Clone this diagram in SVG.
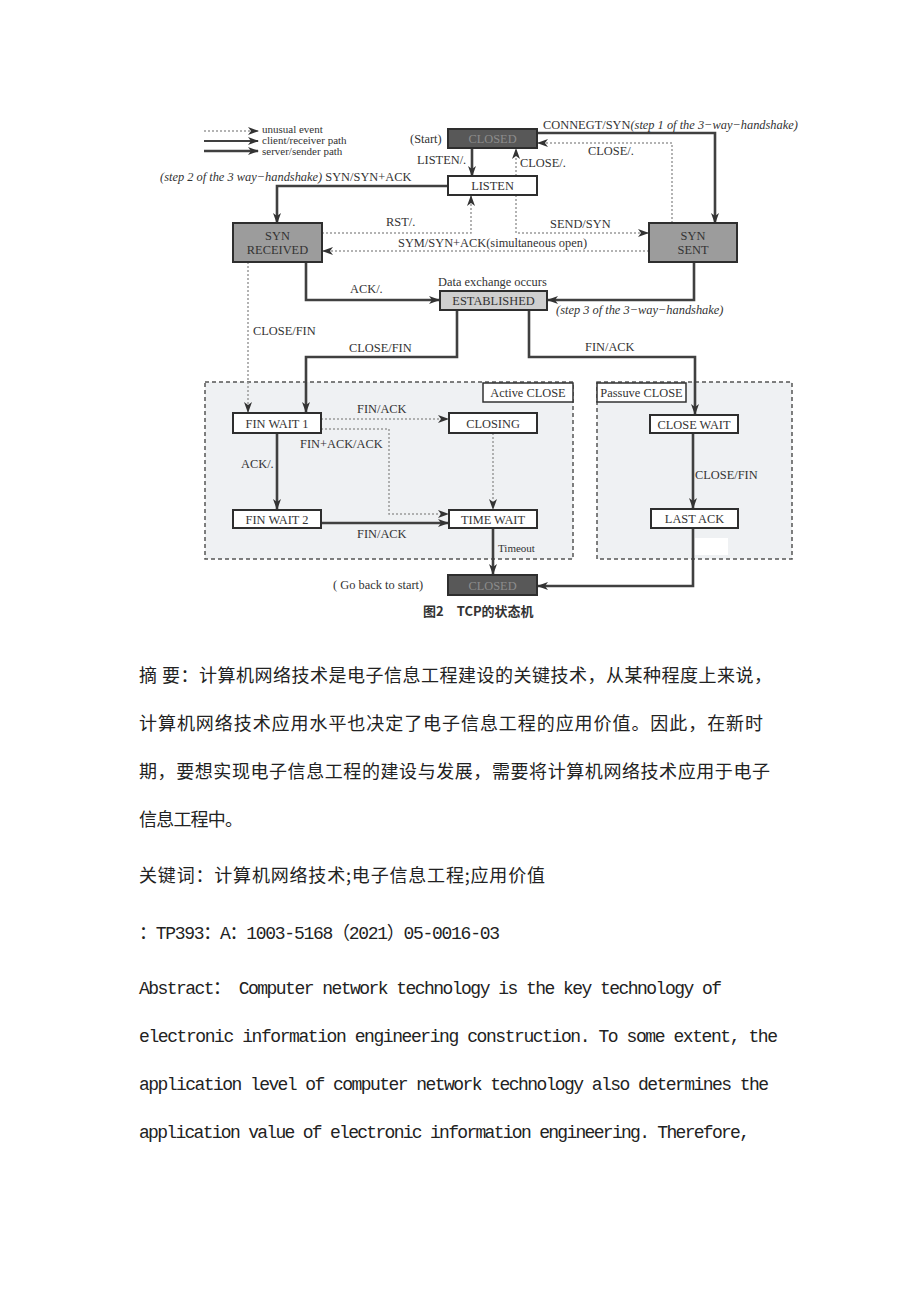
<svg xmlns="http://www.w3.org/2000/svg" width="920" height="1302" viewBox="0 0 920 1302">
<style>
.lbl{font-family:"Liberation Serif","Times New Roman",serif;font-size:12.4px;fill:#333}
.lg{font-family:"Liberation Serif","Times New Roman",serif;font-size:11px;fill:#333}
.it{font-style:italic}
.nt{font-family:"Liberation Serif","Times New Roman",serif;font-size:12.4px;fill:#333;text-anchor:middle}
.box{stroke:#2e2e2e;stroke-width:2}
.t{fill:none;stroke:#404040;stroke-width:2.6}
.m{fill:none;stroke:#404040;stroke-width:1.8}
.d{fill:none;stroke:#9a9a9a;stroke-width:1.5;stroke-dasharray:2,2}
.reg{fill:#eff1f3;stroke:#555;stroke-width:1.5;stroke-dasharray:4,3}
.cn{font-family:"Noto Sans CJK SC","Liberation Serif",sans-serif;font-size:18px;fill:#222}
.en{font-family:"Liberation Mono","Noto Sans CJK SC",monospace;font-size:18px;fill:#222}
</style>
<defs>
<marker id="ah" markerUnits="userSpaceOnUse" markerWidth="11" markerHeight="8" refX="10" refY="4" orient="auto"><path d="M0,0 L11,4 L0,8 L3,4 z" fill="#333"/></marker>
</defs>
<rect width="920" height="1302" fill="#fff"/>

<g id="regions">
<rect class="reg" x="205" y="382" width="368" height="177"/>
<rect class="reg" x="597" y="382" width="195" height="177"/>
<rect x="695" y="538" width="33" height="17" fill="#fff"/>
</g>

<g id="legend">
<path class="d" d="M204,131 L258,131" marker-end="url(#ah)"/>
<path class="m" d="M204,141 L258,141" marker-end="url(#ah)"/>
<path class="t" d="M204,151 L258,151" marker-end="url(#ah)"/>
<text class="lg" x="262" y="133">unusual event</text>
<text class="lg" x="262" y="144">client/receiver path</text>
<text class="lg" x="262" y="155">server/sender path</text>
</g>

<g id="connectors">
<path class="t" d="M472,148 L472,176" marker-end="url(#ah)"/>
<path class="d" d="M516,176 L516,149" marker-end="url(#ah)"/>
<path class="t" d="M537,133 L715,133 L715,223" marker-end="url(#ah)"/>
<path class="d" d="M672,223 L672,143 L538,143" marker-end="url(#ah)"/>
<path class="t" d="M448,186 L277,186 L277,223" marker-end="url(#ah)"/>
<path class="d" d="M322,233 L471,233 L471,196" marker-end="url(#ah)"/>
<path class="d" d="M649,251 L323,251" marker-end="url(#ah)"/>
<path class="d" d="M516,195 L516,233 L648,233" marker-end="url(#ah)"/>
<path class="t" d="M306,262 L306,300 L439,300" marker-end="url(#ah)"/>
<path class="t" d="M694,262 L694,300 L548,300" marker-end="url(#ah)"/>
<path class="d" d="M248,262 L248,412" marker-end="url(#ah)"/>
<path class="t" d="M457,310 L457,357 L306,357 L306,412" marker-end="url(#ah)"/>
<path class="t" d="M529,310 L529,357 L695,357 L695,414" marker-end="url(#ah)"/>
<path class="d" d="M321,419 L448,419" marker-end="url(#ah)"/>
<path class="d" d="M321,429 L389,429 L389,514 L448,514" marker-end="url(#ah)"/>
<path class="t" d="M277,433 L277,509" marker-end="url(#ah)"/>
<path class="d" d="M493,433 L493,509" marker-end="url(#ah)"/>
<path class="t" d="M321,523 L448,523" marker-end="url(#ah)"/>
<path class="t" d="M493,528 L493,574" marker-end="url(#ah)"/>
<path class="t" d="M693,433 L693,508" marker-end="url(#ah)"/>
<path class="t" d="M693,528 L693,586 L538,586" marker-end="url(#ah)"/>
</g>

<g id="edge-labels">
<text class="lbl" x="410" y="143">(Start)</text>
<text class="lbl" x="417" y="164">LISTEN/.</text>
<text class="lbl" x="520" y="167">CLOSE/.</text>
<text class="lbl" x="543" y="129">CONNEGT/SYN<tspan class="it">(step 1 of the 3−way−handshake)</tspan></text>
<text class="lbl" x="588" y="155">CLOSE/.</text>
<text class="lbl" x="160" y="181"><tspan class="it">(step 2 of the 3 way−handshake)</tspan> SYN/SYN+ACK</text>
<text class="lbl" x="386" y="226">RST/.</text>
<text class="lbl" x="550" y="228">SEND/SYN</text>
<text class="lbl" x="398" y="247">SYM/SYN+ACK(simultaneous open)</text>
<text class="lbl" x="350" y="293">ACK/.</text>
<text class="lbl" x="438" y="286">Data exchange occurs</text>
<text class="lbl it" x="556" y="314">(step 3 of the 3−way−handshake)</text>
<text class="lbl" x="253" y="335">CLOSE/FIN</text>
<text class="lbl" x="349" y="352">CLOSE/FIN</text>
<text class="lbl" x="585" y="351">FIN/ACK</text>
<text class="lbl" x="357" y="413">FIN/ACK</text>
<text class="lbl" x="300" y="448">FIN+ACK/ACK</text>
<text class="lbl" x="241" y="468">ACK/.</text>
<text class="lbl" x="357" y="538">FIN/ACK</text>
<text class="lbl" x="498" y="552" style="font-size:11px">Timeout</text>
<text class="lbl" x="695" y="479">CLOSE/FIN</text>
<text class="lbl" x="333" y="589">( Go back to start)</text>
</g>

<g id="label-active"><rect x="483" y="383" width="90" height="19" fill="#fff" stroke="#333" stroke-width="1.5"/><text class="nt" x="528" y="397">Active CLOSE</text></g>
<g id="label-passive"><rect x="597" y="383" width="89" height="19" fill="#fff" stroke="#333" stroke-width="1.5"/><text class="nt" x="641.5" y="397">Passuve CLOSE</text></g>

<g id="closed-top"><rect class="box" x="448" y="129" width="89" height="19" fill="#585858"/><text class="nt" x="492.5" y="143" style="fill:#8c8c8c">CLOSED</text></g>
<g id="listen"><rect class="box" x="448" y="176" width="89" height="19" fill="#fff"/><text class="nt" x="492.5" y="190">LISTEN</text></g>
<g id="syn-received"><rect class="box" x="233" y="223" width="89" height="39" fill="#9c9c9c"/><text class="nt" x="277.5" y="240">SYN</text><text class="nt" x="277.5" y="254">RECEIVED</text></g>
<g id="syn-sent"><rect class="box" x="649" y="223" width="88" height="39" fill="#9c9c9c"/><text class="nt" x="693" y="240">SYN</text><text class="nt" x="693" y="254">SENT</text></g>
<g id="established"><rect class="box" x="440" y="291" width="107" height="19" fill="#cfcfcf"/><text class="nt" x="493.5" y="305">ESTABLISHED</text></g>
<g id="fin-wait-1"><rect class="box" x="233" y="413" width="88" height="20" fill="#fff"/><text class="nt" x="277" y="428">FIN WAIT 1</text></g>
<g id="closing"><rect class="box" x="449" y="413" width="88" height="20" fill="#fff"/><text class="nt" x="493" y="428">CLOSING</text></g>
<g id="fin-wait-2"><rect class="box" x="233" y="510" width="88" height="18" fill="#fff"/><text class="nt" x="277" y="524">FIN WAIT 2</text></g>
<g id="time-wait"><rect class="box" x="449" y="510" width="88" height="18" fill="#fff"/><text class="nt" x="493" y="524">TIME WAIT</text></g>
<g id="close-wait"><rect class="box" x="650" y="415" width="88" height="18" fill="#fff"/><text class="nt" x="694" y="429">CLOSE WAIT</text></g>
<g id="last-ack"><rect class="box" x="651" y="509" width="87" height="19" fill="#fff"/><text class="nt" x="694.5" y="523">LAST ACK</text></g>
<g id="closed-bottom"><rect class="box" x="448" y="575" width="89" height="20" fill="#585858"/><text class="nt" x="492.5" y="590" style="fill:#8c8c8c">CLOSED</text></g>

<text x="423" y="616" style="font-family:'Noto Sans CJK SC',sans-serif;font-size:13px;font-weight:bold;fill:#333">图2　TCP的状态机</text>

<g id="body">
<text class="cn" x="139" y="682" textLength="633" lengthAdjust="spacing">摘 要：计算机网络技术是电子信息工程建设的关键技术，从某种程度上来说，</text>
<text class="cn" x="139" y="730" textLength="624" lengthAdjust="spacing">计算机网络技术应用水平也决定了电子信息工程的应用价值。因此，在新时</text>
<text class="cn" x="139" y="778" textLength="631" lengthAdjust="spacing">期，要想实现电子信息工程的建设与发展，需要将计算机网络技术应用于电子</text>
<text class="cn" x="139" y="826" textLength="104" lengthAdjust="spacing">信息工程中。</text>
<text class="cn" x="139" y="882" textLength="406" lengthAdjust="spacing">关键词：计算机网络技术;电子信息工程;应用价值</text>
<text class="en" x="139" y="939" textLength="361" lengthAdjust="spacing">：TP393：A：1003-5168（2021）05-0016-03</text>
<text class="en" x="139" y="994" textLength="583" lengthAdjust="spacing">Abstract：  Computer network technology is the key technology of</text>
<text class="en" x="139" y="1042" textLength="639" lengthAdjust="spacing">electronic information engineering construction. To some extent,  the</text>
<text class="en" x="139" y="1090" textLength="630" lengthAdjust="spacing">application level of computer network technology also determines the</text>
<text class="en" x="139" y="1138" textLength="611" lengthAdjust="spacing">application value of electronic information engineering. Therefore,</text>
</g>
</svg>
